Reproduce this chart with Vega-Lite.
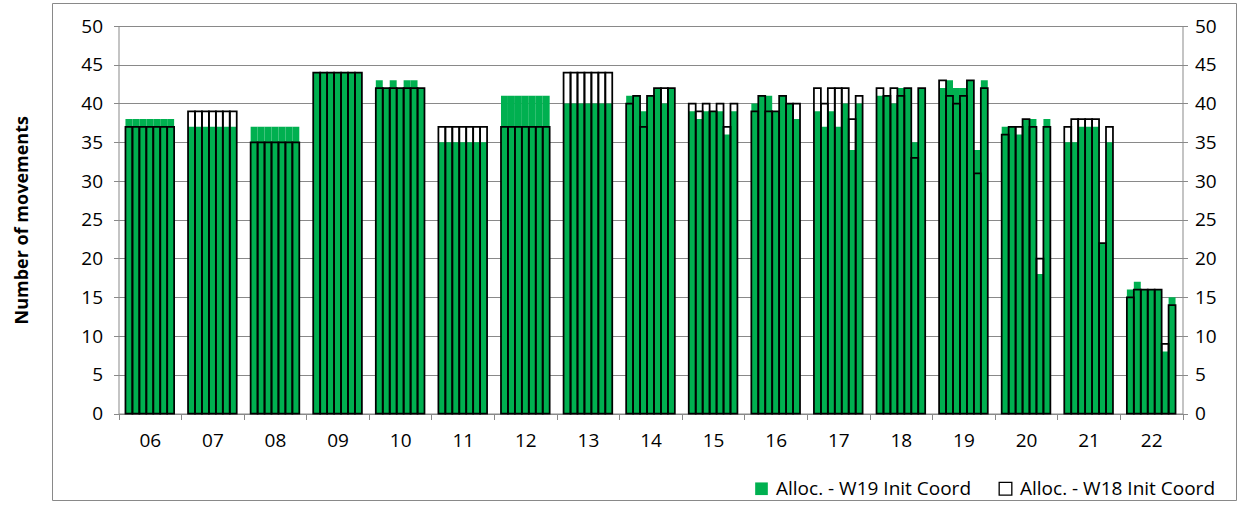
{
  "$schema": "https://vega.github.io/schema/vega-lite/v6.json",
  "width": 1184,
  "height": 497,
  "autosize": {"type": "none"},
  "padding": {"left": 52, "top": 3, "right": 5, "bottom": 5},
  "background": "white",
  "config": {
    "view": {"stroke": "#898989", "strokeWidth": 1},
    "font": "Open Sans",
    "axis": {
      "labelFont": "Open Sans",
      "labelFontSize": 19,
      "labelColor": "#000000",
      "tickColor": "#898989",
      "domainColor": "#898989",
      "gridColor": "#898989",
      "domainWidth": 1,
      "tickWidth": 1,
      "gridWidth": 1
    },
    "legend": {
      "labelFont": "Open Sans",
      "labelFontSize": 19,
      "labelColor": "#000000",
      "labelLimit": 0
    }
  },
  "data": {
    "values": [
      {"g": "06", "d": 1, "w19": 38, "w18": 37}, {"g": "06", "d": 2, "w19": 38, "w18": 37}, {"g": "06", "d": 3, "w19": 38, "w18": 37}, {"g": "06", "d": 4, "w19": 38, "w18": 37}, {"g": "06", "d": 5, "w19": 38, "w18": 37}, {"g": "06", "d": 6, "w19": 38, "w18": 37}, {"g": "06", "d": 7, "w19": 38, "w18": 37},
      {"g": "07", "d": 1, "w19": 37, "w18": 39}, {"g": "07", "d": 2, "w19": 37, "w18": 39}, {"g": "07", "d": 3, "w19": 37, "w18": 39}, {"g": "07", "d": 4, "w19": 37, "w18": 39}, {"g": "07", "d": 5, "w19": 37, "w18": 39}, {"g": "07", "d": 6, "w19": 37, "w18": 39}, {"g": "07", "d": 7, "w19": 37, "w18": 39},
      {"g": "08", "d": 1, "w19": 37, "w18": 35}, {"g": "08", "d": 2, "w19": 37, "w18": 35}, {"g": "08", "d": 3, "w19": 37, "w18": 35}, {"g": "08", "d": 4, "w19": 37, "w18": 35}, {"g": "08", "d": 5, "w19": 37, "w18": 35}, {"g": "08", "d": 6, "w19": 37, "w18": 35}, {"g": "08", "d": 7, "w19": 37, "w18": 35},
      {"g": "09", "d": 1, "w19": 44, "w18": 44}, {"g": "09", "d": 2, "w19": 44, "w18": 44}, {"g": "09", "d": 3, "w19": 44, "w18": 44}, {"g": "09", "d": 4, "w19": 44, "w18": 44}, {"g": "09", "d": 5, "w19": 44, "w18": 44}, {"g": "09", "d": 6, "w19": 44, "w18": 44}, {"g": "09", "d": 7, "w19": 44, "w18": 44},
      {"g": "10", "d": 1, "w19": 43, "w18": 42}, {"g": "10", "d": 2, "w19": 42, "w18": 42}, {"g": "10", "d": 3, "w19": 43, "w18": 42}, {"g": "10", "d": 4, "w19": 42, "w18": 42}, {"g": "10", "d": 5, "w19": 43, "w18": 42}, {"g": "10", "d": 6, "w19": 43, "w18": 42}, {"g": "10", "d": 7, "w19": 42, "w18": 42},
      {"g": "11", "d": 1, "w19": 35, "w18": 37}, {"g": "11", "d": 2, "w19": 35, "w18": 37}, {"g": "11", "d": 3, "w19": 35, "w18": 37}, {"g": "11", "d": 4, "w19": 35, "w18": 37}, {"g": "11", "d": 5, "w19": 35, "w18": 37}, {"g": "11", "d": 6, "w19": 35, "w18": 37}, {"g": "11", "d": 7, "w19": 35, "w18": 37},
      {"g": "12", "d": 1, "w19": 41, "w18": 37}, {"g": "12", "d": 2, "w19": 41, "w18": 37}, {"g": "12", "d": 3, "w19": 41, "w18": 37}, {"g": "12", "d": 4, "w19": 41, "w18": 37}, {"g": "12", "d": 5, "w19": 41, "w18": 37}, {"g": "12", "d": 6, "w19": 41, "w18": 37}, {"g": "12", "d": 7, "w19": 41, "w18": 37},
      {"g": "13", "d": 1, "w19": 40, "w18": 44}, {"g": "13", "d": 2, "w19": 40, "w18": 44}, {"g": "13", "d": 3, "w19": 40, "w18": 44}, {"g": "13", "d": 4, "w19": 40, "w18": 44}, {"g": "13", "d": 5, "w19": 40, "w18": 44}, {"g": "13", "d": 6, "w19": 40, "w18": 44}, {"g": "13", "d": 7, "w19": 40, "w18": 44},
      {"g": "14", "d": 1, "w19": 41, "w18": 40}, {"g": "14", "d": 2, "w19": 41, "w18": 41}, {"g": "14", "d": 3, "w19": 39, "w18": 37}, {"g": "14", "d": 4, "w19": 41, "w18": 41}, {"g": "14", "d": 5, "w19": 42, "w18": 42}, {"g": "14", "d": 6, "w19": 40, "w18": 42}, {"g": "14", "d": 7, "w19": 42, "w18": 42},
      {"g": "15", "d": 1, "w19": 39, "w18": 40}, {"g": "15", "d": 2, "w19": 38, "w18": 39}, {"g": "15", "d": 3, "w19": 39, "w18": 40}, {"g": "15", "d": 4, "w19": 39, "w18": 39}, {"g": "15", "d": 5, "w19": 39, "w18": 40}, {"g": "15", "d": 6, "w19": 36, "w18": 37}, {"g": "15", "d": 7, "w19": 39, "w18": 40},
      {"g": "16", "d": 1, "w19": 40, "w18": 39}, {"g": "16", "d": 2, "w19": 41, "w18": 41}, {"g": "16", "d": 3, "w19": 41, "w18": 39}, {"g": "16", "d": 4, "w19": 39, "w18": 39}, {"g": "16", "d": 5, "w19": 41, "w18": 41}, {"g": "16", "d": 6, "w19": 40, "w18": 40}, {"g": "16", "d": 7, "w19": 38, "w18": 40},
      {"g": "17", "d": 1, "w19": 39, "w18": 42}, {"g": "17", "d": 2, "w19": 37, "w18": 40}, {"g": "17", "d": 3, "w19": 39, "w18": 42}, {"g": "17", "d": 4, "w19": 37, "w18": 42}, {"g": "17", "d": 5, "w19": 40, "w18": 42}, {"g": "17", "d": 6, "w19": 34, "w18": 38}, {"g": "17", "d": 7, "w19": 40, "w18": 41},
      {"g": "18", "d": 1, "w19": 41, "w18": 42}, {"g": "18", "d": 2, "w19": 41, "w18": 41}, {"g": "18", "d": 3, "w19": 40, "w18": 42}, {"g": "18", "d": 4, "w19": 42, "w18": 41}, {"g": "18", "d": 5, "w19": 42, "w18": 42}, {"g": "18", "d": 6, "w19": 35, "w18": 33}, {"g": "18", "d": 7, "w19": 42, "w18": 42},
      {"g": "19", "d": 1, "w19": 42, "w18": 43}, {"g": "19", "d": 2, "w19": 43, "w18": 41}, {"g": "19", "d": 3, "w19": 42, "w18": 40}, {"g": "19", "d": 4, "w19": 42, "w18": 41}, {"g": "19", "d": 5, "w19": 43, "w18": 43}, {"g": "19", "d": 6, "w19": 34, "w18": 31}, {"g": "19", "d": 7, "w19": 43, "w18": 42},
      {"g": "20", "d": 1, "w19": 37, "w18": 36}, {"g": "20", "d": 2, "w19": 37, "w18": 37}, {"g": "20", "d": 3, "w19": 36, "w18": 37}, {"g": "20", "d": 4, "w19": 38, "w18": 38}, {"g": "20", "d": 5, "w19": 38, "w18": 37}, {"g": "20", "d": 6, "w19": 18, "w18": 20}, {"g": "20", "d": 7, "w19": 38, "w18": 37},
      {"g": "21", "d": 1, "w19": 35, "w18": 37}, {"g": "21", "d": 2, "w19": 35, "w18": 38}, {"g": "21", "d": 3, "w19": 37, "w18": 38}, {"g": "21", "d": 4, "w19": 37, "w18": 38}, {"g": "21", "d": 5, "w19": 37, "w18": 38}, {"g": "21", "d": 6, "w19": 22, "w18": 22}, {"g": "21", "d": 7, "w19": 35, "w18": 37},
      {"g": "22", "d": 1, "w19": 16, "w18": 15}, {"g": "22", "d": 2, "w19": 17, "w18": 16}, {"g": "22", "d": 3, "w19": 16, "w18": 16}, {"g": "22", "d": 4, "w19": 16, "w18": 16}, {"g": "22", "d": 5, "w19": 16, "w18": 16}, {"g": "22", "d": 6, "w19": 8, "w18": 9}, {"g": "22", "d": 7, "w19": 15, "w18": 14}
    ]
  },
  "encoding": {
    "x": {
      "field": "g",
      "type": "nominal",
      "sort": null,
      "scale": {"range": [66.5, 1130.5], "paddingInner": 0, "paddingOuter": 0},
      "axis": {
        "title": null,
        "orient": "bottom",
        "offset": -86.5,
        "tickBand": "extent",
        "tickSize": 6,
        "labelPadding": 12,
        "labelAngle": 0,
        "domain": true,
        "grid": false
      }
    },
    "xOffset": {
      "field": "d",
      "type": "ordinal",
      "scale": {"paddingInner": 0, "paddingOuter": 1}
    }
  },
  "layer": [
    {
      "mark": {"type": "bar", "strokeWidth": 0},
      "encoding": {
        "y": {
          "field": "w19",
          "type": "quantitative",
          "scale": {"domain": [0, 50], "range": [410.5, 23], "nice": false, "zero": true},
          "axis": {
            "orient": "left",
            "values": [0, 5, 10, 15, 20, 25, 30, 35, 40, 45, 50],
            "offset": -66.5,
            "grid": true,
            "domain": true,
            "tickSize": 5,
            "labelPadding": 11,
            "title": "Number of movements",
            "titleFont": "Open Sans",
            "titleFontSize": 18,
            "titleFontWeight": "bold",
            "titleColor": "#000000",
            "titleAngle": -90,
            "titleX": -96,
            "titleBaseline": "middle",
            "titleAlign": "center"
          }
        },
        "fill": {
          "datum": "Alloc. - W19 Init Coord",
          "type": "nominal",
          "scale": {
            "domain": ["Alloc. - W19 Init Coord", "Alloc. - W18 Init Coord"],
            "range": ["#00B050", "#FFFFFF"]
          },
          "legend": {
            "title": null,
            "orient": "none",
            "legendX": 700,
            "legendY": 476,
            "direction": "horizontal",
            "symbolType": "square",
            "symbolSize": 160,
            "symbolOpacity": 1,
            "columnPadding": 24,
            "labelOffset": 5,
            "labelLimit": 0,
            "encode": {
              "symbols": {
                "update": {
                  "stroke": [
                    {"test": "datum.value === 'Alloc. - W18 Init Coord'", "value": "#000000"},
                    {"value": "transparent"}
                  ],
                  "strokeWidth": {"value": 1.3}
                }
              }
            }
          }
        }
      }
    },
    {
      "mark": {"type": "bar", "fill": "transparent", "stroke": "#000000", "strokeWidth": 1.75},
      "encoding": {
        "y": {
          "field": "w18",
          "type": "quantitative",
          "scale": {"domain": [0, 50], "range": [410.5, 23], "nice": false, "zero": true},
          "axis": {
            "orient": "right",
            "values": [0, 5, 10, 15, 20, 25, 30, 35, 40, 45, 50],
            "offset": -53.5,
            "grid": false,
            "domain": true,
            "tickSize": 5,
            "labelPadding": 7,
            "title": null
          }
        }
      }
    }
  ],
  "resolve": {"scale": {"y": "independent"}}
}
